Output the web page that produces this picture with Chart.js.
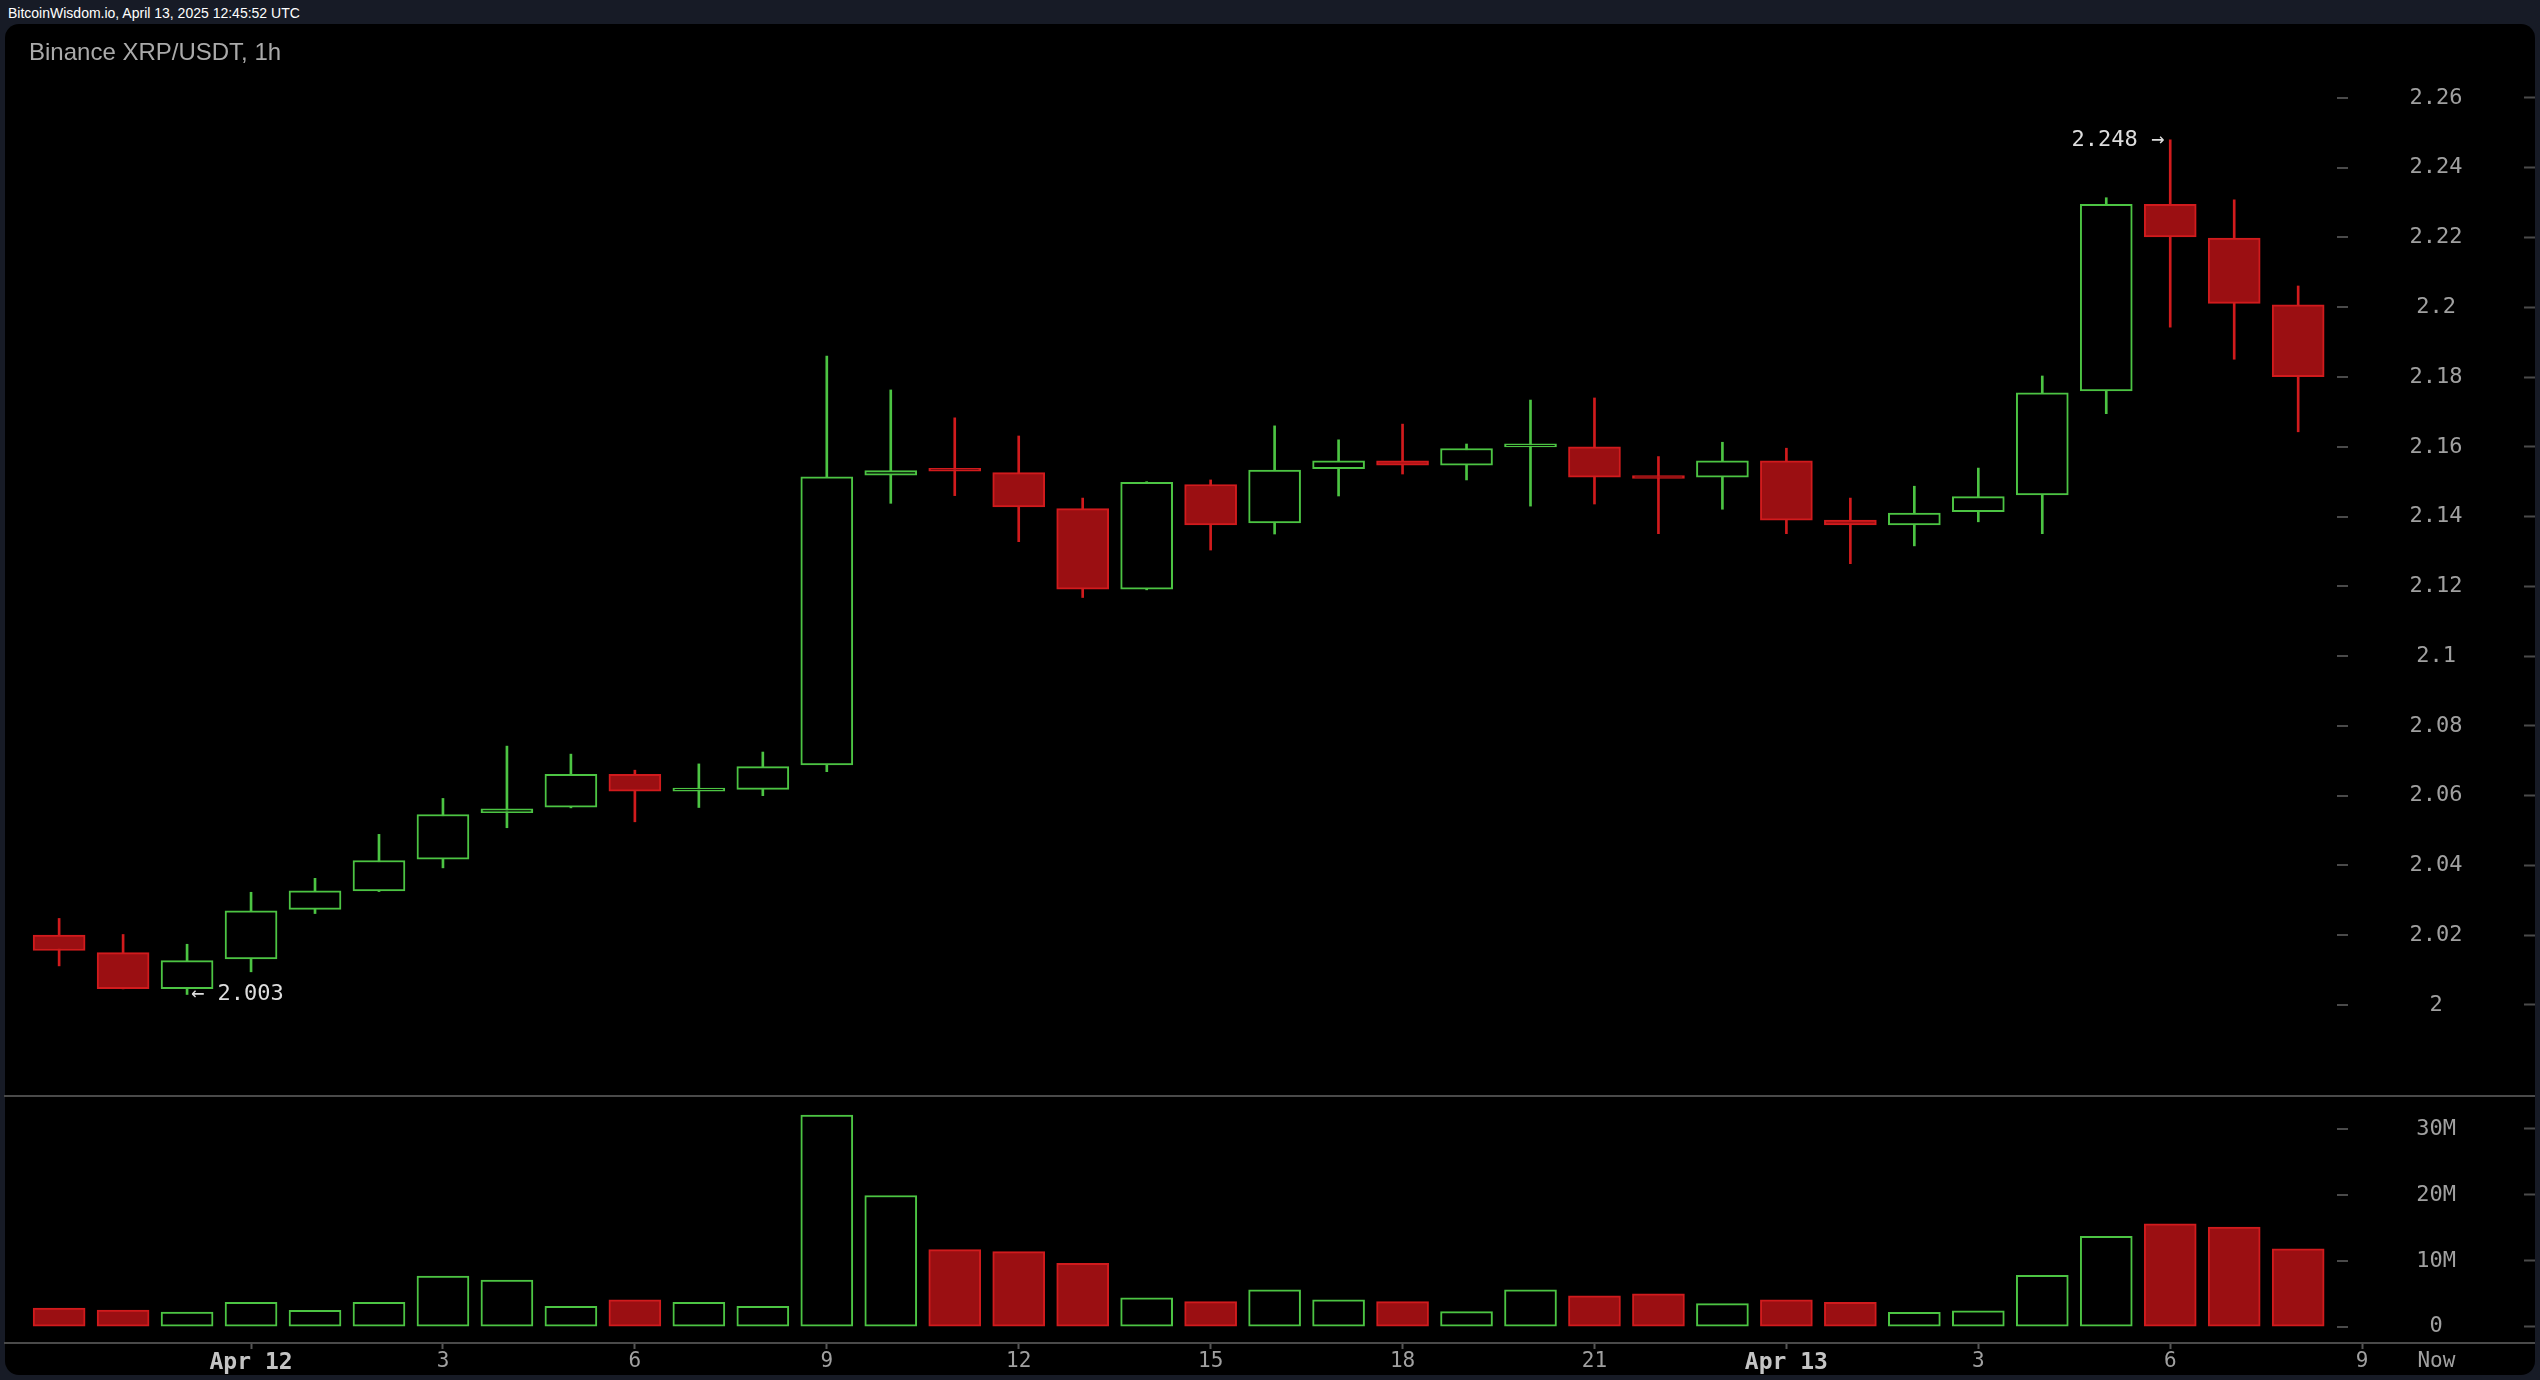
<!DOCTYPE html>
<html>
<head>
<meta charset="utf-8">
<title>Binance XRP/USDT, 1h</title>
<script src="https://cdn.jsdelivr.net/npm/chart.js@4.4.1/dist/chart.umd.min.js"></script>
<style>
  html, body { margin: 0; padding: 0; width: 2540px; height: 1380px; overflow: hidden; background: #171b26; }
  #topbar { position: absolute; left: 8px; top: 4px; line-height: 18px; font-size: 14px; color: #fff;
            font-family: "Liberation Sans Narrow", "Liberation Sans", Arial, sans-serif; }
  #panel { position: absolute; left: 5px; top: 24px; width: 2530px; height: 1351px; background: #000; border-radius: 14px; }
  #wrap { position: absolute; left: 0; top: 0; width: 2540px; height: 1380px; }
  #title { position: absolute; left: 29px; top: 38px; line-height: 28px; font-size: 24px; color: #aaaaaa;
           font-family: "Liberation Sans", Arial, sans-serif; }
</style>
</head>
<body>
<div id="topbar">BitcoinWisdom.io, April 13, 2025 12:45:52 UTC</div>
<div id="panel"></div>
<div id="wrap"><canvas id="chart"></canvas></div>
<div id="title">Binance XRP/USDT, 1h</div>
<script>
// hourly candles, first one is Apr 11 21:00
const opens  = [2.0200, 2.0150, 2.0047, 2.0132, 2.0274, 2.0327, 2.0418, 2.0551, 2.0567, 2.0661, 2.0613, 2.0618,
                2.0688, 2.1519, 2.1532, 2.1526, 2.1423, 2.1192, 2.1492, 2.1382, 2.1537, 2.1560, 2.1547, 2.1600,
                2.1600, 2.1513, 2.1513, 2.1560, 2.1390, 2.1376, 2.1414, 2.1462, 2.1760, 2.2295, 2.2198, 2.2007];
const highs  = [2.0248, 2.0202, 2.0174, 2.0323, 2.0363, 2.0489, 2.0592, 2.0742, 2.0719, 2.0673, 2.0691, 2.0725,
                2.1860, 2.1763, 2.1683, 2.1631, 2.1453, 2.1500, 2.1505, 2.1660, 2.1620, 2.1665, 2.1608, 2.1734,
                2.1740, 2.1572, 2.1613, 2.1596, 2.1453, 2.1487, 2.1539, 2.1803, 2.2314, 2.2480, 2.2308, 2.2061];
const lows   = [2.0112, 2.0046, 2.0030, 2.0095, 2.0262, 2.0325, 2.0393, 2.0508, 2.0565, 2.0525, 2.0566, 2.0600,
                2.0669, 2.1438, 2.1460, 2.1328, 2.1168, 2.1190, 2.1304, 2.1350, 2.1459, 2.1522, 2.1505, 2.1430,
                2.1436, 2.1351, 2.1421, 2.1351, 2.1265, 2.1316, 2.1385, 2.1351, 2.1695, 2.1943, 2.1851, 2.1643];
const closes = [2.0156, 2.0047, 2.0127, 2.0270, 2.0327, 2.0414, 2.0546, 2.0562, 2.0661, 2.0613, 2.0613, 2.0683,
                2.1514, 2.1532, 2.1530, 2.1428, 2.1192, 2.1498, 2.1376, 2.1533, 2.1560, 2.1547, 2.1595, 2.1600,
                2.1513, 2.1509, 2.1560, 2.1390, 2.1376, 2.1410, 2.1457, 2.1755, 2.2295, 2.2202, 2.2011, 2.1801];
// volume, millions
const volumes = [2.85, 2.54, 2.24, 3.71, 2.49, 3.71, 7.67, 7.06, 3.10, 4.07, 3.71, 3.10,
                 32.1, 19.9, 11.7, 11.4, 9.6, 4.4, 3.8, 5.6, 4.1, 3.8, 2.3, 5.6,
                 4.7, 5.0, 3.5, 4.1, 3.7, 2.2, 2.4, 7.8, 13.7, 15.6, 15.1, 11.8];

const timeTicks  = [3, 6, 9, 12, 15, 18, 21, 24, 27, 30, 33, 36, 37.16];
const timeLabels = ['Apr 12', '3', '6', '9', '12', '15', '18', '21', 'Apr 13', '3', '6', '9', 'Now'];
const priceTicks  = [2.0, 2.02, 2.04, 2.06, 2.08, 2.1, 2.12, 2.14, 2.16, 2.18, 2.2, 2.22, 2.24, 2.26];
const volumeTicks = [0, 10, 20, 30];

const GREEN = '#4cc443';
const RED = '#d11b1d';
const RED_FILL = '#9b0f12';
const AXIS_GREY = '#4a4a4a';

const isUp = closes.map((c, i) => c >= opens[i]);
const lineColor = isUp.map(u => u ? GREEN : RED);
const fillColor = isUp.map(u => u ? '#000000' : RED_FILL);

const wickData = lows.map((l, i) => ({ x: i, y: [l, highs[i]] }));
const bodyData = opens.map((o, i) => ({ x: i, y: [o, closes[i]] }));
const volData = volumes.map((v, i) => ({ x: i, y: v }));

// separator between panes, bottom rule and the short marks left of the price labels
const framePlugin = {
    id: 'frame',
    afterDraw(chart) {
        const { ctx, chartArea, scales } = chart;
        ctx.save();
        ctx.strokeStyle = AXIS_GREY;
        ctx.lineWidth = 2;
        [scales.y.bottom, scales.x.top].forEach(yy => {
            ctx.beginPath();
            ctx.moveTo(chartArea.left - 1, yy);
            ctx.lineTo(chart.width - 5, yy);
            ctx.stroke();
        });
        ['y', 'yv'].forEach(id => {
            const s = scales[id];
            s.ticks.forEach(t => {
                const py = Math.round(s.getPixelForValue(t.value));
                ctx.beginPath();
                ctx.moveTo(chartArea.right - 187, py);
                ctx.lineTo(chartArea.right - 176, py);
                ctx.stroke();
            });
        });
        ctx.restore();
    }
};

// high / low markers
const extremesPlugin = {
    id: 'extremes',
    afterDatasetsDraw(chart) {
        const { ctx, scales: { x, y } } = chart;
        const hi = highs.indexOf(Math.max(...highs));
        const lo = lows.indexOf(Math.min(...lows));
        ctx.save();
        ctx.font = '22px "DejaVu Sans Mono"';
        ctx.fillStyle = '#dddddd';
        ctx.textBaseline = 'middle';
        ctx.textAlign = 'right';
        ctx.fillText(highs[hi].toFixed(3) + ' \u2192', x.getPixelForValue(hi) - 6, y.getPixelForValue(highs[hi]));
        ctx.textAlign = 'left';
        ctx.fillText('\u2190 ' + lows[lo].toFixed(3), x.getPixelForValue(lo) + 4, y.getPixelForValue(lows[lo]));
        ctx.restore();
    }
};

Chart.defaults.font.family = '"DejaVu Sans Mono", monospace';
Chart.defaults.color = '#a0a0a0';

const isDate = i => timeLabels[i] && timeLabels[i].startsWith('Apr');

new Chart(document.getElementById('chart').getContext('2d'), {
    type: 'bar',
    data: {
        datasets: [
            {
                label: 'wick',
                data: wickData,
                yAxisID: 'y',
                order: 2,
                grouped: false,
                barThickness: 2,
                backgroundColor: lineColor,
                borderWidth: 0,
                minBarLength: 1
            },
            {
                label: 'body',
                data: bodyData,
                yAxisID: 'y',
                order: 1,
                grouped: false,
                barThickness: 52,
                backgroundColor: fillColor,
                borderColor: lineColor,
                borderWidth: 2,
                borderSkipped: false,
                minBarLength: 3
            },
            {
                label: 'volume',
                data: volData,
                yAxisID: 'yv',
                order: 0,
                grouped: false,
                barThickness: 52,
                backgroundColor: fillColor,
                borderColor: lineColor,
                borderWidth: 2,
                borderSkipped: false
            }
        ]
    },
    options: {
        responsive: true,
        maintainAspectRatio: false,
        animation: false,
        layout: { padding: { left: 5, top: 24, right: 5, bottom: 5 } },
        plugins: {
            legend: { display: false },
            tooltip: { enabled: false }
        },
        scales: {
            x: {
                type: 'linear',
                min: -0.846,
                max: 38.53,
                offset: false,
                bounds: 'data',
                border: { display: false },
                grid: {
                    offset: false,
                    drawOnChartArea: false,
                    tickLength: 6,
                    tickWidth: 2,
                    tickColor: ctx => timeLabels[ctx.index] === 'Now' ? 'rgba(0,0,0,0)' : '#555555'
                },
                afterBuildTicks: s => { s.ticks = timeTicks.map(v => ({ value: v })); },
                afterFit: s => { s.height = 32; s.paddingLeft = 0; s.paddingRight = 0; },
                ticks: {
                    autoSkip: false,
                    maxRotation: 0,
                    padding: 0,
                    color: ctx => isDate(ctx.index) ? '#c4c4c4' : '#a0a0a0',
                    font: ctx => isDate(ctx.index) ? { size: 23, weight: 'bold' } : { size: 21 },
                    callback: (v, i) => timeLabels[i]
                }
            },
            y: {
                type: 'linear',
                position: 'right',
                stack: 'panes',
                stackWeight: 1072,
                min: 1.9739,
                max: 2.2812,
                bounds: 'data',
                border: { display: false },
                grid: { drawOnChartArea: false, tickLength: 11, tickWidth: 2, tickColor: AXIS_GREY },
                afterBuildTicks: s => { s.ticks = priceTicks.map(v => ({ value: v })); },
                afterFit: s => { s.width = 11; s.paddingTop = 0; s.paddingBottom = 0; },
                ticks: {
                    mirror: true,
                    crossAlign: 'center',
                    padding: -61.5,
                    color: '#a0a0a0',
                    font: { size: 22 },
                    callback: v => String(+v.toFixed(2))
                }
            },
            yv: {
                type: 'linear',
                position: 'right',
                stack: 'panes',
                stackWeight: 247,
                min: -2.46,
                max: 34.98,
                bounds: 'data',
                border: { display: false },
                grid: { drawOnChartArea: false, tickLength: 11, tickWidth: 2, tickColor: AXIS_GREY },
                afterBuildTicks: s => { s.ticks = volumeTicks.map(v => ({ value: v })); },
                afterFit: s => { s.width = 11; s.paddingTop = 0; s.paddingBottom = 0; },
                ticks: {
                    mirror: true,
                    crossAlign: 'center',
                    padding: -68,
                    color: '#a0a0a0',
                    font: { size: 22 },
                    callback: v => v === 0 ? '0' : v + 'M'
                }
            }
        }
    },
    plugins: [framePlugin, extremesPlugin]
});
</script>
</body>
</html>
